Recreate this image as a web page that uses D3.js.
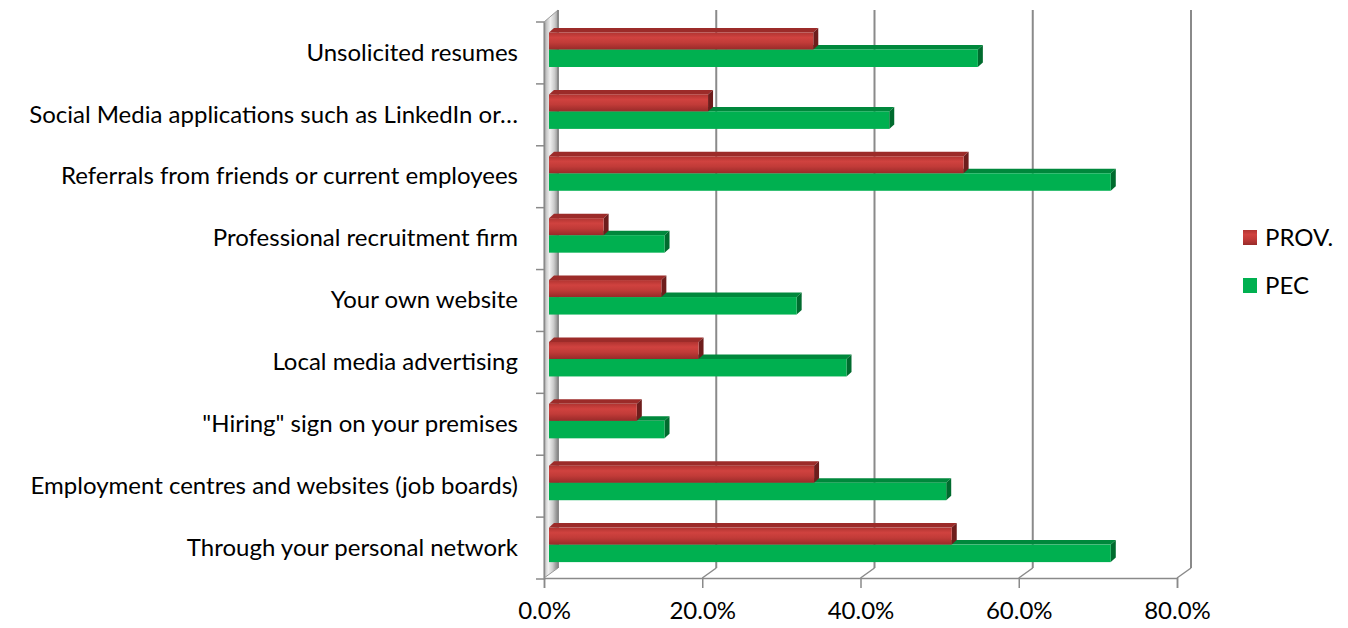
<!DOCTYPE html>
<html>
<head>
<meta charset="utf-8">
<script src="https://cdn.jsdelivr.net/npm/d3@7"></script>
<style>
  html, body { margin: 0; padding: 0; background: #fff; }
  svg { display: block; }
  text { font-family: Lato, "Open Sans", sans-serif; fill: #000; }
</style>
</head>
<body>
<svg id="chart" width="1348" height="628"></svg>
<script>
const categories = [
  "Unsolicited resumes",
  "Social Media applications such as LinkedIn or…",
  "Referrals from friends or current employees",
  "Professional recruitment firm",
  "Your own website",
  "Local media advertising",
  "\"Hiring\" sign on your premises",
  "Employment centres and websites (job boards)",
  "Through your personal network"
];
const provValues = [33.4, 20.1, 52.4, 6.9, 14.2, 18.9, 11.1, 33.5, 50.9];
const pecValues  = [54.2, 43.0, 71.0, 14.6, 31.3, 37.6, 14.6, 50.2, 71.0];
const xTicks = [0, 20, 40, 60, 80];
const seriesNames = ["PROV.", "PEC"];

const svg = d3.select("#chart");
const defs = svg.append("defs");

// gradients
const gRed = defs.append("linearGradient").attr("id", "gRed").attr("x1", 0).attr("y1", 0).attr("x2", 0).attr("y2", 1);
[[0, "#b13431"], [0.3, "#d0423f"], [0.6, "#c13b38"], [1, "#982a29"]].forEach(s =>
  gRed.append("stop").attr("offset", s[0]).attr("stop-color", s[1]));
const gWall = defs.append("linearGradient").attr("id", "gWall").attr("x1", 0).attr("y1", 0).attr("x2", 1).attr("y2", 0.15);
[[0, "#a6a6a6"], [0.45, "#f0f0f0"], [0.75, "#cccccc"], [1, "#969696"]].forEach(s =>
  gWall.append("stop").attr("offset", s[0]).attr("stop-color", s[1]));

// scales (front plane)
const x = d3.scaleLinear().domain([0, 80]).range([544, 1177]);
const y = d3.scaleBand().domain(categories).range([22, 579]);
const floorY = 578;
const DX = 14, DY = -10;      // depth of the back wall
const BX = 5;                 // bar plane shift
const bdx = 5, bdy = -4.5;    // bar thickness

// font fitting to mimic Calibri metrics
const probe = svg.append("text").attr("font-size", 20).text(categories[7]);
const w20 = probe.node().getComputedTextLength();
probe.remove();
const fs = Math.min(24, 20 * 508 / w20);

// back wall gridlines
xTicks.filter(v => v > 0).forEach(v => {
  svg.append("line")
    .attr("x1", x(v) + DX).attr("x2", x(v) + DX)
    .attr("y1", 10).attr("y2", floorY + DY)
    .attr("stroke", "#8a8a8a").attr("stroke-width", 2);
  svg.append("line")
    .attr("x1", x(v)).attr("y1", floorY)
    .attr("x2", x(v) + DX).attr("y2", floorY + DY)
    .attr("stroke", "#8a8a8a").attr("stroke-width", 1.5);
});

// left side wall
svg.append("polygon")
  .attr("points", [[x(0), 22], [x(0) + DX, 10], [x(0) + DX, floorY + DY], [x(0), floorY]].map(p => p.join(",")).join(" "))
  .attr("fill", "url(#gWall)").attr("stroke", "#9a9a9a").attr("stroke-width", 1);
svg.append("line").attr("x1", x(0) + DX).attr("x2", x(0) + DX).attr("y1", 10).attr("y2", floorY + DY)
  .attr("stroke", "#8a8a8a").attr("stroke-width", 2);

// X axis
const xAxis = d3.axisBottom(x).tickValues(xTicks).tickFormat(d => d.toFixed(1) + "%")
  .tickSizeOuter(0).tickSize(10).tickPadding(14);
const gx = svg.append("g").attr("transform", `translate(0,${floorY})`).call(xAxis);
gx.select(".domain").attr("stroke", "#8a8a8a").attr("stroke-width", 1.5);
gx.selectAll(".tick line").attr("stroke", "#8a8a8a").attr("stroke-width", 1.5);
gx.selectAll(".tick text").attr("font-size", fs).attr("font-family", "Lato, 'Open Sans', sans-serif").attr("fill", "#000");

// Y axis labels
const yAxis = d3.axisLeft(y).tickSize(0).tickPadding(26);
const gy = svg.append("g").attr("transform", `translate(${x(0)},0)`).call(yAxis);
gy.select(".domain").attr("stroke", "#8a8a8a").attr("stroke-width", 1.5);
gy.selectAll(".tick text").attr("font-size", fs).attr("font-family", "Lato, 'Open Sans', sans-serif").attr("fill", "#000");

// category boundary ticks
const bounds = categories.map(c => y(c)).concat([y.range()[1]]);
svg.append("g").selectAll("line").data(bounds).join("line")
  .attr("x1", x(0) - 8).attr("x2", x(0)).attr("y1", d => d).attr("y2", d => d)
  .attr("stroke", "#8a8a8a").attr("stroke-width", 1.5);

// bars
const series = [
  { name: "PEC", values: pecValues, y0: 27.5, y1: 45, front: "#00b050", top: "#00883c", side: "#006b2e" },
  { name: "PROV.", values: provValues, y0: 10.5, y1: 27.5, front: "url(#gRed)", top: "#9c2b29", side: "#6e1d1c" }
];
const barsG = svg.append("g");
categories.forEach((c, i) => {
  series.forEach(s => {
    const v = s.values[i];
    const xs = x(0) + BX, xe = x(v) + BX;
    const yt = y(c) + s.y0, yb = y(c) + s.y1;
    const g = barsG.append("g");
    g.append("polygon")
      .attr("points", [[xs, yt], [xe, yt], [xe + bdx, yt + bdy], [xs + bdx, yt + bdy]].map(p => p.join(",")).join(" "))
      .attr("fill", s.top);
    g.append("polygon")
      .attr("points", [[xe, yt], [xe + bdx, yt + bdy], [xe + bdx, yb + bdy], [xe, yb]].map(p => p.join(",")).join(" "))
      .attr("fill", s.side);
    g.append("rect").attr("x", xs).attr("y", yt).attr("width", xe - xs).attr("height", yb - yt)
      .attr("fill", s.front);
  });
});

// legend
const legendData = [
  { name: seriesNames[0], fill: "url(#gRed)", y: 230 },
  { name: seriesNames[1], fill: "#00b050", y: 278 }
];
const lg = svg.append("g");
legendData.forEach(d => {
  lg.append("rect").attr("x", 1243).attr("y", d.y).attr("width", 14).attr("height", 15).attr("fill", d.fill);
  lg.append("text").attr("x", 1265).attr("y", d.y + 7.5).attr("dy", "0.35em")
    .attr("font-size", fs).text(d.name);
});
</script>
</body>
</html>
